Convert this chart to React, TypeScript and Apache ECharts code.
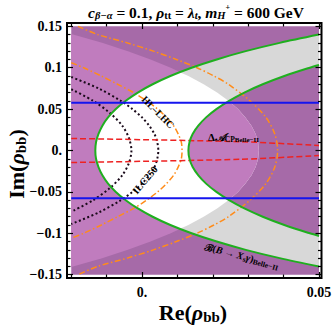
import React, { useEffect, useRef } from "react";
import * as echarts from "echarts";

// ---- axis ticks ----
const xTickMajor = [0, 0.05];
const xTickLabels = ["0.", "0.05"];
const xTickMinor = [-0.02, -0.01, 0.01, 0.02, 0.03, 0.04];
const yTickMajor = [-0.15, -0.1, -0.05, 0, 0.05, 0.1, 0.15];
const yTickLabels = ["\u22120.15", "\u22120.1", "\u22120.05", "0.", "0.05", "0.1", "0.15"];
const yTickMinor = [
  -0.14, -0.13, -0.12, -0.11, -0.09, -0.08, -0.07, -0.06, -0.04, -0.03, -0.02, -0.01,
  0.01, 0.02, 0.03, 0.04, 0.06, 0.07, 0.08, 0.09, 0.11, 0.12, 0.13, 0.14,
];

// ---- regions / curves, [Re, Im] ----
const plotBox = [[-0.02, -0.15], [0.05, -0.15], [0.05, 0.15], [-0.02, 0.15]];
// left green boundary (bottom -> top)
const greenLeft = [
  [0.05, -0.14], [0.0389, -0.13], [0.0293, -0.12], [0.0211, -0.11], [0.014, -0.1], [0.008, -0.09],
  [0.003, -0.08], [-0.0012, -0.07], [-0.0046, -0.06], [-0.0074, -0.05], [-0.0096, -0.04],
  [-0.0112, -0.03], [-0.0123, -0.02], [-0.013, -0.01], [-0.0132, 0], [-0.013, 0.01],
  [-0.0123, 0.02], [-0.0112, 0.03], [-0.0096, 0.04], [-0.0074, 0.05], [-0.0046, 0.06],
  [-0.0012, 0.07], [0.003, 0.08], [0.008, 0.09], [0.014, 0.1], [0.0211, 0.11], [0.0293, 0.12],
  [0.0389, 0.13], [0.05, 0.14],
];
// right green boundary (bottom -> top)
const greenRight = [
  [0.05, -0.1032], [0.0474, -0.1], [0.0402, -0.09], [0.0341, -0.08], [0.0289, -0.07], [0.0246, -0.06],
  [0.021, -0.05], [0.0181, -0.04], [0.0159, -0.03], [0.0143, -0.02], [0.0134, -0.01], [0.0131, 0],
  [0.0134, 0.01], [0.0143, 0.02], [0.0159, 0.03], [0.0181, 0.04], [0.021, 0.05], [0.0246, 0.06],
  [0.0289, 0.07], [0.0341, 0.08], [0.0402, 0.09], [0.0474, 0.1], [0.05, 0.1032],
];
// light-purple / dark-purple boundary (top -> bottom)
const circleB = [
  [-0.02, 0.1406], [-0.0195, 0.14], [-0.0113, 0.13], [-0.004, 0.12], [0.0024, 0.11], [0.0081, 0.1],
  [0.0131, 0.09], [0.0174, 0.08], [0.0212, 0.07], [0.0244, 0.06], [0.0271, 0.05], [0.0292, 0.04],
  [0.0309, 0.03], [0.0321, 0.02], [0.0328, 0.01], [0.033, 0], [0.0328, -0.01], [0.0321, -0.02],
  [0.0309, -0.03], [0.0292, -0.04], [0.0271, -0.05], [0.0244, -0.06], [0.0212, -0.07],
  [0.0174, -0.08], [0.0131, -0.09], [0.0081, -0.1], [0.0024, -0.11], [-0.004, -0.12],
  [-0.0113, -0.13], [-0.0195, -0.14], [-0.02, -0.1406],
];
const lens1Tips = [[0.0107, 0.0945], [0.0107, -0.0945]];
const lens2Tips = [[0.0245, 0.0597], [0.0245, -0.0597]];

const blueUpper = [[-0.02, 0.0577], [0.05, 0.0577]];
const blueLower = [[-0.02, -0.0577], [0.05, -0.0577]];
const redUpper = [[-0.02, 0.0145], [0.0277, 0.0106], [0.05, 0.006]];
const redLower = [[-0.02, -0.0145], [0.0277, -0.0106], [0.05, -0.006]];
const orangeOuter = [
  [-0.0181, 0.15], [-0.0125, 0.14], [-0.0042, 0.13], [0.0032, 0.12], [0.0097, 0.11], [0.0155, 0.1],
  [0.0203, 0.09], [0.0244, 0.08], [0.0305, 0.06], [0.035, 0.04], [0.0375, 0.02], [0.0383, 0],
  [0.0375, -0.02], [0.035, -0.04], [0.0305, -0.06], [0.0244, -0.08], [0.0203, -0.09],
  [0.0155, -0.1], [0.0097, -0.11], [0.0032, -0.12], [-0.0042, -0.13], [-0.0125, -0.14],
  [-0.0181, -0.15],
];
const orangeInner = [
  [-0.02, 0.106], [-0.0165, 0.1], [-0.0115, 0.09], [-0.0069, 0.08], [-0.0024, 0.07], [0.0013, 0.06],
  [0.0044, 0.05], [0.0069, 0.04], [0.0089, 0.03], [0.0102, 0.02], [0.0111, 0.01], [0.0113, 0],
  [0.0111, -0.01], [0.0102, -0.02], [0.0089, -0.03], [0.0069, -0.04], [0.0044, -0.05],
  [0.0013, -0.06], [-0.0024, -0.07], [-0.0069, -0.08], [-0.0115, -0.09], [-0.0165, -0.1],
  [-0.02, -0.106],
];
const dotOuter = [
  [-0.02, 0.0888], [-0.0123, 0.075], [-0.006, 0.06], [-0.0027, 0.05], [0.0, 0.04], [0.002, 0.03],
  [0.0035, 0.02], [0.0043, 0.01], [0.0046, 0], [0.0043, -0.01], [0.0035, -0.02], [0.002, -0.03],
  [0.0, -0.04], [-0.0027, -0.05], [-0.006, -0.06], [-0.0123, -0.075], [-0.02, -0.0888],
];
const dotInner = [
  [-0.02, 0.074], [-0.0138, 0.06], [-0.009, 0.045], [-0.0056, 0.03], [-0.0037, 0.015], [-0.003, 0],
  [-0.0037, -0.015], [-0.0056, -0.03], [-0.009, -0.045], [-0.0138, -0.06], [-0.02, -0.074],
];

// ---- styling / layout ----
const SERIF = "'Liberation Serif', 'DejaVu Serif', serif";
const C_DARK = "#A66AA8";
const C_LIGHT = "#C07CBE";
const C_GREY = "#D8D8D8";
const C_WHITE = "#FFFFFF";
const X_MIN = -0.0212, X_MAX = 0.0507, Y_MIN = -0.154, Y_MAX = 0.154;

const inBand = (pts: number[][], lim: number) => pts.filter((p) => Math.abs(p[1]) < lim);
const lens1 = [
  ...inBand(greenLeft, lens1Tips[0][1]),
  lens1Tips[0],
  ...inBand(circleB, lens1Tips[0][1]),
  lens1Tips[1],
];
const lens2 = [
  ...inBand(greenRight, lens2Tips[0][1]),
  lens2Tips[0],
  ...inBand(circleB, lens2Tips[0][1]),
  lens2Tips[1],
];

const regions: { pts: number[][]; color: string }[] = [
  { pts: plotBox, color: C_DARK },
  { pts: circleB, color: C_LIGHT },
  { pts: greenLeft, color: C_GREY },
  { pts: greenRight, color: C_DARK },
  { pts: lens1, color: C_WHITE },
  { pts: lens2, color: C_LIGHT },
];

const richBase = {
  b: { fontFamily: SERIF, fontWeight: "bold", fontSize: 10, fill: "#000", lineHeight: 13 },
  i: { fontFamily: SERIF, fontWeight: "bold", fontStyle: "italic", fontSize: 10, fill: "#000", lineHeight: 13 },
  sub: { fontFamily: SERIF, fontWeight: "bold", fontSize: 7.5, fill: "#000", lineHeight: 7, verticalAlign: "bottom" },
  ssub: { fontFamily: SERIF, fontWeight: "bold", fontSize: 7, fill: "#000", lineHeight: 5, verticalAlign: "bottom" },
  big: { fontFamily: SERIF, fontWeight: "bold", fontSize: 11, fill: "#000", lineHeight: 13 },
  scr: { fontFamily: SERIF, fontWeight: "bold", fontStyle: "italic", fontSize: 11, fill: "#000", lineHeight: 13 },
};

const annotations = [
  { at: [0.0045, 0.0465], rot: -45, align: "center", text: "{b|HL\u2013LHC}" },
  { at: [0.0008, -0.0355], rot: 50, align: "center", text: "{b|ILC250}" },
  { at: [0.0186, 0.0163], rot: 0, align: "left", text: "{big|\u0394}{scr|\u{1D49C}}{sub|CP}{ssub|Belle\u2212II}" },
  { at: [0.0282, -0.1274], rot: -15, align: "center", text: "{b|\u212C(}{i|B}{b| \u2192 }{i|X}{sub|s}{i|\u03B3}{b|)}{sub|Belle\u2212II}" },
];

const lineSeries = (data: number[][], color: string, width: number, type: any, z: number) => ({
  type: "line",
  data,
  xAxisIndex: 0,
  yAxisIndex: 0,
  showSymbol: false,
  symbol: "none",
  smooth: 0.3,
  silent: true,
  z,
  lineStyle: { color, width, type, cap: "butt" },
});

const fmt = (ticks: number[], labels: string[]) => (v: number) => {
  const i = ticks.findIndex((t) => Math.abs(t - v) < 1e-9);
  return i >= 0 ? labels[i] : "";
};

export default function App() {
  const ref = useRef<HTMLDivElement>(null);
  useEffect(() => {
    document.body.style.margin = "0";
    const chart = echarts.init(ref.current!, undefined, { renderer: "svg" });
    const tickStyle = { color: "#000", width: 1.2 };
    const noLine = { show: false, onZero: false };
    const xBase = { type: "value", min: X_MIN, max: X_MAX, splitLine: { show: false }, axisLine: noLine, z: 20 };
    const yBase = { type: "value", min: Y_MIN, max: Y_MAX, splitLine: { show: false }, axisLine: noLine, z: 20 };
    const labelStyle = { fontFamily: SERIF, fontWeight: "bold", fontSize: 14, color: "#000" };
    const option: any = {
      animation: false,
      grid: {
        left: 67, top: 23, width: 254.5, height: 255,
        show: true, borderColor: "#000", borderWidth: 2, backgroundColor: "#fff",
        outerBoundsMode: "none",
      },
      xAxis: [
        { ...xBase, position: "bottom", axisTick: { inside: true, length: 6, customValues: xTickMajor, lineStyle: tickStyle },
          axisLabel: { ...labelStyle, customValues: xTickMajor, margin: 7, formatter: fmt(xTickMajor, xTickLabels) } },
        { ...xBase, position: "bottom", axisTick: { inside: true, length: 3.5, customValues: xTickMinor, lineStyle: tickStyle }, axisLabel: { show: false } },
        { ...xBase, position: "top", axisTick: { inside: true, length: 6, customValues: xTickMajor, lineStyle: tickStyle }, axisLabel: { show: false } },
        { ...xBase, position: "top", axisTick: { inside: true, length: 3.5, customValues: xTickMinor, lineStyle: tickStyle }, axisLabel: { show: false } },
      ],
      yAxis: [
        { ...yBase, position: "left", axisTick: { inside: true, length: 6, customValues: yTickMajor, lineStyle: tickStyle },
          axisLabel: { ...labelStyle, customValues: yTickMajor, margin: 5, formatter: fmt(yTickMajor, yTickLabels) } },
        { ...yBase, position: "left", axisTick: { inside: true, length: 3.5, customValues: yTickMinor, lineStyle: tickStyle }, axisLabel: { show: false } },
        { ...yBase, position: "right", axisTick: { inside: true, length: 6, customValues: yTickMajor, lineStyle: tickStyle }, axisLabel: { show: false } },
        { ...yBase, position: "right", axisTick: { inside: true, length: 3.5, customValues: yTickMinor, lineStyle: tickStyle }, axisLabel: { show: false } },
      ],
      series: [
        ...regions.map((r, k) => ({
          type: "custom",
          coordinateSystem: "cartesian2d",
          xAxisIndex: 0,
          yAxisIndex: 0,
          silent: true,
          z: 1 + k * 0.01,
          data: [[0, 0]],
          renderItem: (_p: any, api: any) => ({
            type: "polygon",
            shape: { points: r.pts.map((p) => api.coord(p)) },
            style: { fill: r.color, stroke: null },
          }),
        })),
        lineSeries(orangeOuter, "#FF8C1A", 1.5, [6, 2.5, 1.5, 2.5], 5),
        lineSeries(orangeInner, "#FF8C1A", 1.5, [6, 2.5, 1.5, 2.5], 5),
        lineSeries(dotOuter, "#1a0a1a", 2, [2, 2.5], 5),
        lineSeries(dotInner, "#1a0a1a", 2, [2, 2.5], 5),
        lineSeries(redUpper, "#EE2222", 1.5, [6, 3], 6),
        lineSeries(redLower, "#EE2222", 1.5, [6, 3], 6),
        lineSeries(greenLeft, "#1FAF1F", 2, "solid", 7),
        lineSeries(greenRight, "#1FAF1F", 2, "solid", 7),
        lineSeries(blueUpper, "#1515EE", 2, "solid", 8),
        lineSeries(blueLower, "#1515EE", 2, "solid", 8),
        {
          type: "custom",
          coordinateSystem: "cartesian2d",
          xAxisIndex: 0,
          yAxisIndex: 0,
          silent: true,
          z: 10,
          data: annotations.map((_a, k) => [k, 0]),
          renderItem: (params: any, api: any) => {
            const a = annotations[params.dataIndex];
            const [px, py] = api.coord(a.at);
            return {
              type: "text",
              x: px,
              y: py,
              rotation: (a.rot * Math.PI) / 180,
              style: { text: a.text, rich: richBase, align: a.align, verticalAlign: "middle" },
            };
          },
        },
      ],
      graphic: [
        {
          type: "text", x: 196, y: 12,
          style: {
            text: "{i|c}{isub|\u03B2\u2212\u03B1}{b| = 0.1, }{i|\u03C1}{sub|tt}{b| = }{i|\u03BB}{isub|t}{b|, }{i|m}{isub|H}{sup|+}{b| = 600 GeV}",
            align: "center", verticalAlign: "middle",
            rich: {
              b: { fontFamily: SERIF, fontWeight: "bold", fontSize: 15.5, fill: "#000", lineHeight: 18 },
              i: { fontFamily: SERIF, fontWeight: "bold", fontStyle: "italic", fontSize: 15.5, fill: "#000", lineHeight: 18 },
              sub: { fontFamily: SERIF, fontWeight: "bold", fontSize: 10.5, fill: "#000", lineHeight: 10, verticalAlign: "bottom" },
              isub: { fontFamily: SERIF, fontWeight: "bold", fontStyle: "italic", fontSize: 10.5, fill: "#000", lineHeight: 10, verticalAlign: "bottom" },
              sup: { fontFamily: SERIF, fontWeight: "bold", fontSize: 8, fill: "#000", lineHeight: 8, verticalAlign: "top" },
            },
          },
        },
        {
          type: "text", x: 193, y: 312,
          style: {
            text: "{b|Re(}{i|\u03C1}{sub|bb}{b|)}",
            align: "center", verticalAlign: "middle",
            rich: {
              b: { fontFamily: SERIF, fontWeight: "bold", fontSize: 22, fill: "#000", lineHeight: 24 },
              i: { fontFamily: SERIF, fontWeight: "bold", fontStyle: "italic", fontSize: 22, fill: "#000", lineHeight: 24 },
              sub: { fontFamily: SERIF, fontWeight: "bold", fontSize: 15, fill: "#000", lineHeight: 15, verticalAlign: "bottom" },
            },
          },
        },
        {
          type: "text", x: 16, y: 164, rotation: Math.PI / 2,
          style: {
            text: "{b|Im(}{i|\u03C1}{sub|bb}{b|)}",
            align: "center", verticalAlign: "middle",
            rich: {
              b: { fontFamily: SERIF, fontWeight: "bold", fontSize: 22, fill: "#000", lineHeight: 24 },
              i: { fontFamily: SERIF, fontWeight: "bold", fontStyle: "italic", fontSize: 22, fill: "#000", lineHeight: 24 },
              sub: { fontFamily: SERIF, fontWeight: "bold", fontSize: 15, fill: "#000", lineHeight: 15, verticalAlign: "bottom" },
            },
          },
        },
      ],
    };
    chart.setOption(option);
    return () => chart.dispose();
  }, []);
  return <div ref={ref} style={{ width: 332, height: 327 }} />;
}
